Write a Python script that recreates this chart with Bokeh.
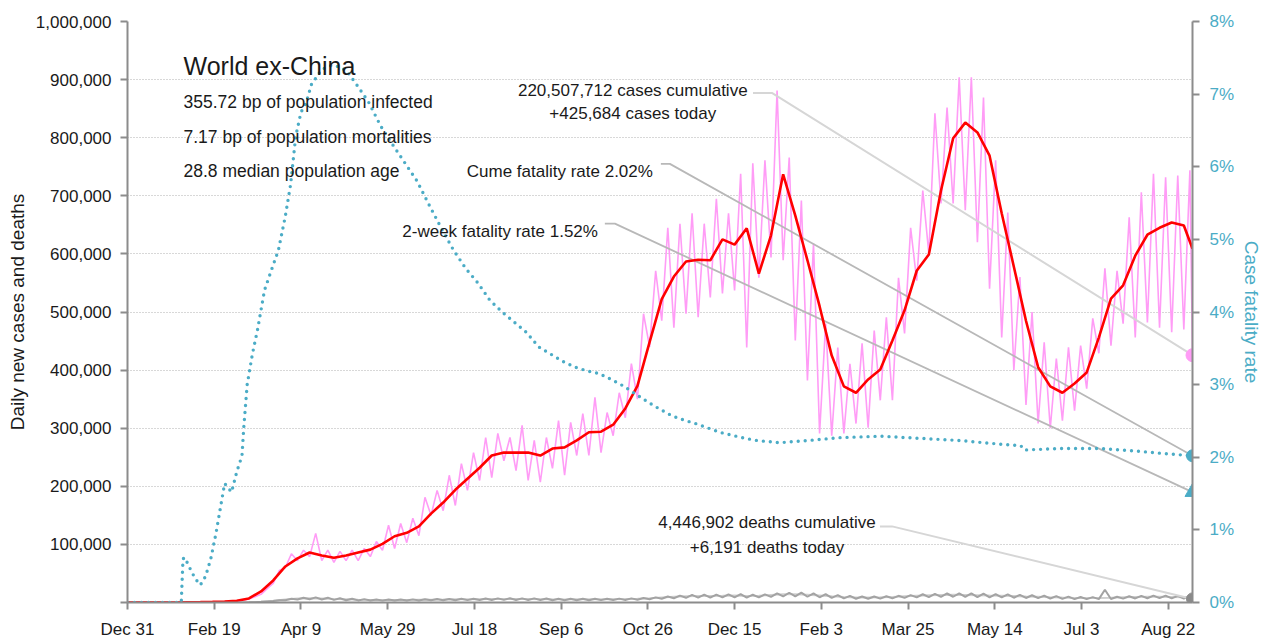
import pandas as pd
from bokeh.plotting import figure
from bokeh.models import (Range1d, LinearAxis, FixedTicker, NumeralTickFormatter,
                          PrintfTickFormatter, Label)
from bokeh.embed import file_html
from bokeh.resources import INLINE

# ---------------- data ----------------
START = "2019-12-31"
LAST_DATE = "2021-09-05"

tick_dates = ["2019-12-31", "2020-02-19", "2020-04-09", "2020-05-29", "2020-07-18",
              "2020-09-06", "2020-10-26", "2020-12-15", "2021-02-03", "2021-03-25",
              "2021-05-14", "2021-07-03", "2021-08-22"]
tick_labels = ["Dec 31", "Feb 19", "Apr 9", "May 29", "Jul 18", "Sep 6", "Oct 26",
               "Dec 15", "Feb 3", "Mar 25", "May 14", "Jul 3", "Aug 22"]

# weekly 7-day average of new cases (thousands), weeks starting 2019-12-31
red_avg = [0, 0, 0, 0, 0, 0.3, 0.6, 1, 1.5, 3,
           7, 19, 38, 62, 76, 86, 81, 77, 81, 86,
           91, 101, 114, 120, 131, 153, 172, 194, 213, 232,
           253, 258, 258, 258, 253, 265, 267, 279, 293, 294,
           306, 334, 373, 448, 522, 561, 587, 590, 589, 625,
           616, 644, 566, 632, 737, 666, 589, 510, 425, 372,
           361, 384, 401, 451, 503, 571, 599, 709, 799, 826,
           809, 769, 670, 578, 485, 405, 372, 361, 377, 396,
           456, 523, 546, 597, 633, 645, 654, 649]
red_last = 609

# daily new cases: weekly low and weekly high (thousands)
pink_low = [0, 0, 0, 0, 0, 0, 0, 0.5, 1, 2,
            6, 14, 33, 60, 72, 79, 72, 69, 72, 72,
            79, 90, 93, 103, 115, 150, 158, 167, 193, 210,
            215, 244, 227, 210, 207, 231, 219, 253, 253, 258,
            287, 318, 350, 440, 485, 473, 497, 491, 525, 532,
            537, 439, 559, 594, 589, 451, 382, 291, 287, 291,
            308, 301, 348, 348, 463, 554, 600, 687, 687, 675,
            620, 540, 456, 400, 340, 308, 300, 313, 330, 368,
            429, 442, 480, 456, 482, 473, 465, 470]
pink_high = [0, 0, 0, 0, 0, 0, 0, 1, 2, 4,
             10, 24, 55, 84, 90, 119, 90, 88, 90, 93,
             105, 133, 136, 145, 181, 193, 219, 239, 258, 284,
             291, 284, 305, 279, 284, 313, 310, 325, 353, 327,
             361, 411, 497, 571, 645, 652, 670, 652, 695, 670,
             738, 756, 761, 881, 766, 692, 618, 480, 439, 411,
             446, 468, 491, 559, 645, 709, 842, 852, 904, 904,
             869, 761, 671, 560, 500, 448, 420, 439, 442, 489,
             575, 571, 663, 706, 738, 732, 735, 744]

# daily deaths: weekly low / high / 7-day average (thousands)
deaths_low = [0, 0, 0, 0, 0, 0, 0, 0, 0, 0.05,
              0.3, 1.1, 2.4, 3.9, 5.1, 5.5, 5.2, 4.5, 4.0, 3.6,
              3.3, 3.2, 3.3, 3.4, 3.5, 3.7, 3.8, 4.0, 4.1, 4.3,
              4.4, 4.5, 4.4, 4.4, 4.3, 4.0, 4.0, 4.0, 4.0, 4.1,
              4.2, 4.4, 4.8, 5.5, 6.4, 7.3, 8.1, 8.5, 8.5, 8.7,
              8.9, 8.4, 8.7, 9.8, 10.5, 10.6, 9.9, 9.0, 8.0, 7.0,
              6.5, 6.4, 6.7, 7.2, 8.0, 8.8, 9.3, 9.7, 9.9, 9.7,
              9.4, 9.0, 8.7, 8.2, 7.8, 7.4, 6.8, 6.3, 5.9, 5.8,
              5.8, 6.1, 6.7, 7.0, 7.3, 7.4, 7.2, 6.9]
deaths_high = [0, 0, 0, 0, 0, 0, 0, 0, 0, 0.15,
               0.5, 1.9, 3.9, 6.3, 8.2, 8.8, 8.3, 7.2, 6.5, 5.8,
               5.3, 5.2, 5.3, 5.4, 5.6, 5.9, 6.0, 6.5, 6.6, 7.0,
               7.1, 7.2, 7.1, 7.1, 6.8, 6.5, 6.4, 6.5, 6.5, 6.6,
               6.7, 7.1, 7.7, 8.8, 10.3, 11.8, 13.0, 13.6, 13.7, 13.9,
               14.3, 13.4, 13.9, 15.7, 16.8, 16.9, 15.8, 14.4, 12.7, 11.3,
               10.4, 10.3, 10.7, 11.5, 12.8, 14.2, 14.9, 15.5, 15.8, 15.6,
               15.1, 14.4, 13.9, 13.2, 12.5, 11.9, 10.9, 10.1, 9.5, 9.2,
               22.0, 9.8, 10.7, 11.3, 11.8, 11.9, 11.5, 11.0]
deaths_avg = [0, 0, 0, 0, 0, 0, 0, 0, 0, 0.1,
              0.4, 1.5, 3.2, 5.2, 6.8, 7.3, 6.9, 6.0, 5.4, 4.8,
              4.4, 4.3, 4.4, 4.5, 4.7, 4.9, 5.0, 5.4, 5.5, 5.8,
              5.9, 6.0, 5.9, 5.9, 5.7, 5.4, 5.3, 5.4, 5.4, 5.5,
              5.6, 5.9, 6.4, 7.3, 8.6, 9.8, 10.8, 11.3, 11.4, 11.6,
              11.9, 11.2, 11.6, 13.1, 14.0, 14.1, 13.2, 12.0, 10.6, 9.4,
              8.7, 8.6, 8.9, 9.6, 10.7, 11.8, 12.4, 12.9, 13.2, 13.0,
              12.6, 12.0, 11.6, 11.0, 10.4, 9.9, 9.1, 8.4, 7.9, 7.7,
              7.8, 8.2, 8.9, 9.4, 9.8, 9.9, 9.6, 9.2]
deaths_avg_last = 8.8

# cumulative case fatality rate (%)
cfr_dates = ["2019-12-31", "2020-01-31", "2020-02-01", "2020-02-02", "2020-02-05",
             "2020-02-08", "2020-02-11", "2020-02-14", "2020-02-17", "2020-02-20",
             "2020-02-25", "2020-02-29", "2020-03-03", "2020-03-06", "2020-03-07",
             "2020-03-09", "2020-03-12", "2020-03-15", "2020-03-19", "2020-03-23",
             "2020-03-27", "2020-03-31", "2020-04-03", "2020-04-06", "2020-04-09",
             "2020-04-12", "2020-04-15", "2020-04-21", "2020-04-27", "2020-05-02",
             "2020-05-06", "2020-05-12", "2020-05-18", "2020-05-25", "2020-06-01",
             "2020-06-08", "2020-06-15", "2020-06-22", "2020-06-29", "2020-07-06",
             "2020-07-13", "2020-07-20", "2020-07-27", "2020-08-03", "2020-08-10",
             "2020-08-17", "2020-08-24", "2020-08-31", "2020-09-07", "2020-09-14",
             "2020-09-21", "2020-09-28", "2020-10-05", "2020-10-12", "2020-10-19",
             "2020-10-26", "2020-11-02", "2020-11-09", "2020-11-16", "2020-11-23",
             "2020-11-30", "2020-12-07", "2020-12-14", "2020-12-21", "2020-12-28",
             "2021-01-10", "2021-01-26", "2021-02-14", "2021-03-09", "2021-04-01",
             "2021-04-24", "2021-05-17", "2021-05-29", "2021-05-31", "2021-06-21",
             "2021-07-14", "2021-08-06", "2021-08-20", "2021-09-05"]
cfr_values = [0, 0, 0.60, 0.62, 0.47, 0.33, 0.24, 0.36, 0.60, 0.95,
              1.64, 1.52, 1.80, 2.02, 2.40, 3.00, 3.42, 3.76, 4.30, 4.58,
              4.85, 5.32, 5.75, 6.42, 6.75, 6.88, 7.13, 7.34, 7.40, 7.37,
              7.30, 7.10, 6.89, 6.56, 6.30, 6.05, 5.80, 5.47, 5.15, 4.85,
              4.60, 4.40, 4.16, 4.00, 3.86, 3.72, 3.52, 3.42, 3.32, 3.24,
              3.19, 3.15, 3.07, 2.98, 2.87, 2.76, 2.66, 2.57, 2.51, 2.46,
              2.40, 2.34, 2.30, 2.26, 2.23, 2.20, 2.23, 2.27, 2.29, 2.26,
              2.23, 2.18, 2.16, 2.10, 2.12, 2.12, 2.08, 2.05, 2.02]

cum_cases = 220507712
cases_today = 425684
cum_deaths = 4446902
deaths_today = 6191
cfr_cum = 2.02
cfr_2wk = 1.52
infected_bp = 355.72
mortality_bp = 7.17
median_age = 28.8
region = "World ex-China"

# ---------------- build ----------------
Y_MAX = 1_000_000
CFR_MAX = 8
FONT = "Liberation Sans"
TXT = "#1a1a1a"
BLUE = "#4bacc6"
PINK = "#ff9cf6"
AXC = "#8c8c8c"


def to_day(s):
    return (pd.Timestamp(s) - pd.Timestamp(START)).days


week_days = [to_day(d) for d in pd.date_range(START, periods=len(red_avg), freq="7D")]
last_day = to_day(LAST_DATE)

red_x = week_days + [last_day]
red_y = [v * 1000 for v in red_avg] + [red_last * 1000]

pink_x, pink_y = [], []
for d, lo, hi in zip(week_days, pink_low, pink_high):
    pink_x += [d, d + 3.5]
    pink_y += [lo * 1000, hi * 1000]
pink_x.append(last_day)
pink_y.append(cases_today)

dth_x, dth_y = [], []
for d, lo, hi in zip(week_days, deaths_low, deaths_high):
    dth_x += [d, d + 3.5]
    dth_y += [lo * 1000, hi * 1000]
dth_x.append(last_day)
dth_y.append(deaths_today)

davg_x = week_days + [last_day]
davg_y = [v * 1000 for v in deaths_avg] + [deaths_avg_last * 1000]

cfr_x = [to_day(d) for d in cfr_dates]

p = figure(width=1265, height=642,
           x_range=Range1d(0, last_day), y_range=Range1d(0, Y_MAX),
           output_backend="svg", toolbar_location=None,
           min_border_left=127, min_border_right=73,
           min_border_top=21, min_border_bottom=40)
p.outline_line_color = None
p.background_fill_color = "white"
p.border_fill_color = "white"
p.extra_y_ranges = {"cfr": Range1d(0, CFR_MAX)}

p.xgrid.visible = False
p.ygrid.grid_line_color = "#b0b0b0"
p.ygrid.grid_line_dash = "1 2"
p.ygrid.grid_line_width = 1
p.ygrid.ticker = FixedTicker(ticks=list(range(0, Y_MAX + 1, 100_000)))


def style_axis(ax, label_color=TXT):
    ax.axis_line_color = AXC
    ax.axis_line_width = 2
    ax.major_tick_line_color = AXC
    ax.major_tick_line_width = 2
    ax.major_tick_out = 7
    ax.major_tick_in = 0
    ax.minor_tick_line_color = None
    ax.major_label_text_font = FONT
    ax.major_label_text_font_size = "17px"
    ax.major_label_text_color = label_color
    ax.axis_label_text_font = FONT
    ax.axis_label_text_font_size = "19px"
    ax.axis_label_text_font_style = "normal"


xa = p.xaxis[0]
xa.ticker = FixedTicker(ticks=[to_day(d) for d in tick_dates])
xa.major_label_overrides = {to_day(d): lab for d, lab in zip(tick_dates, tick_labels)}
style_axis(xa)
xa.major_label_standoff = 10

ya = p.yaxis[0]
ya.ticker = FixedTicker(ticks=list(range(0, Y_MAX + 1, 100_000)))
ya.formatter = NumeralTickFormatter(format="0,0")
ya.major_label_overrides = {0: ""}
ya.axis_label = "Daily new cases and deaths"
style_axis(ya)
ya.axis_label_text_color = TXT
ya.major_label_standoff = 9
ya.axis_label_standoff = 5

ra = LinearAxis(y_range_name="cfr", ticker=FixedTicker(ticks=list(range(0, CFR_MAX + 1))),
                formatter=PrintfTickFormatter(format="%d%%"),
                axis_label="Case fatality rate")
style_axis(ra, BLUE)
ra.axis_label_text_color = BLUE
ra.major_label_standoff = 10
ra.axis_label_standoff = 4
p.add_layout(ra, "right")

scale = Y_MAX / CFR_MAX

# deaths
p.line(davg_x, davg_y, line_color="#cfcfcf", line_width=2)
p.line(dth_x, dth_y, line_color="#a3a3a3", line_width=2)

# daily cases
p.line(pink_x, pink_y, line_color=PINK, line_width=1.6)

# leader lines
p.line([360.6, 371.5, last_day], [877e3, 877e3, cases_today], line_color="#d6d6d6", line_width=2)
p.line([307.5, 312.7, last_day], [755e3, 755e3, cfr_cum * scale], line_color="#b8b8b8", line_width=1.8)
p.line([275.2, 281.0, last_day], [652e3, 652e3, cfr_2wk * scale], line_color="#b8b8b8", line_width=1.8)
p.line([433.8, 440.8, last_day], [131e3, 131e3, deaths_today], line_color="#d6d6d6", line_width=2)

# 7-day average
p.line(red_x, red_y, line_color="#ff0000", line_width=2.6)

# CFR dotted
p.line(cfr_x, cfr_values, y_range_name="cfr", line_color=BLUE, line_width=3.4,
       line_dash="0 7", line_cap="round", line_join="round")

# end markers
p.scatter([last_day], [cases_today], marker="circle", size=13, color=PINK)
p.scatter([last_day], [cfr_cum], y_range_name="cfr", marker="circle", size=12, color=BLUE)
p.scatter([last_day], [cfr_2wk], y_range_name="cfr", marker="triangle", size=15, color=BLUE)
p.scatter([last_day], [deaths_today], marker="circle", size=12, color="#8a8a8a")


def add_label(x, y, text, size="17px", align="left"):
    p.add_layout(Label(x=x, y=y, text=text, text_font=FONT, text_font_size=size,
                       text_color=TXT, text_align=align, text_baseline="alphabetic"))


add_label(32.3, 924e3, region, size="25px")
add_label(32.3, 861e3, f"{infected_bp:.2f} bp of population infected", size="17.5px")
add_label(32.3, 801e3, f"{mortality_bp:.2f} bp of population mortalities", size="17.5px")
add_label(32.3, 742e3, f"{median_age} median population age", size="17.5px")

add_label(291.3, 882e3, f"{cum_cases:,} cases cumulative", align="center")
add_label(291.3, 841e3, f"+{cases_today:,} cases today", align="center")
add_label(302.9, 742e3, f"Cume fatality rate {cfr_cum:.2f}%", align="right")
add_label(271.2, 639e3, f"2-week fatality rate {cfr_2wk:.2f}%", align="right")
add_label(368.7, 138e3, f"{cum_deaths:,} deaths cumulative", align="center")
add_label(368.7, 95e3, f"+{deaths_today:,} deaths today", align="center")

open("out.html", "w").write(file_html(p, INLINE))
